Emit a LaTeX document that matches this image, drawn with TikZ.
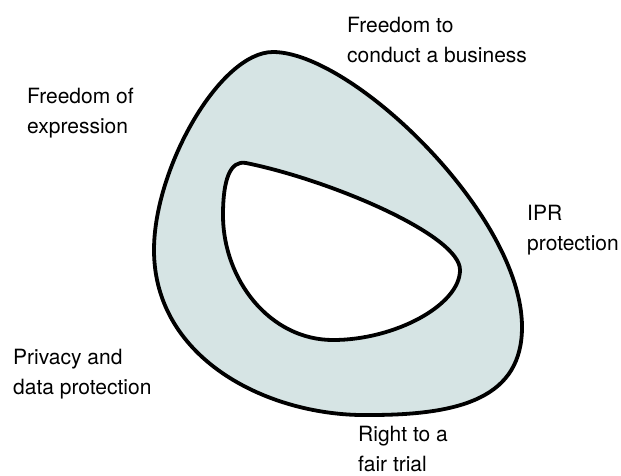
\documentclass[tikz,border=0pt]{standalone}
\usepackage{fontspec}
\setmainfont{TeX Gyre Heros}
\definecolor{ringfill}{RGB}{214,228,228}

\begin{document}
\begin{tikzpicture}[x=1pt,y=-1pt,
    lbl/.style={anchor=base west,inner sep=0pt,align=left,
      font=\fontsize{21}{30}\selectfont}]
  \useasboundingbox (0,0) rectangle (621,475);
  % outer rim and inner hole
  \filldraw[fill=ringfill,line width=3.8pt,even odd rule]
    (273,52) .. controls (352,52) and (522,215) .. (522,327)
      .. controls (522,397) and (462,415) .. (370,415)
      .. controls (270,417) and (154,360) .. (154,250)
      .. controls (154,168) and (220,52) .. cycle
    (246,163) .. controls (330,180) and (460,235) .. (460,270)
      .. controls (460,305) and (395,340) .. (333,340)
      .. controls (270,340) and (223,280) .. (223,215)
      .. controls (223,180) and (230,160) .. cycle;
  % labels
  \node[lbl] (business) at (347,62) {Freedom to\\conduct a business};
  \node[lbl] (expression) at (27,133) {Freedom of\\expression};
  \node[lbl] (ipr) at (527,250) {IPR\\protection};
  \node[lbl] (privacy) at (13,394) {Privacy and\\data protection};
  \node[lbl] (trial) at (358,471) {Right to a\\fair trial};
\end{tikzpicture}
\end{document}
